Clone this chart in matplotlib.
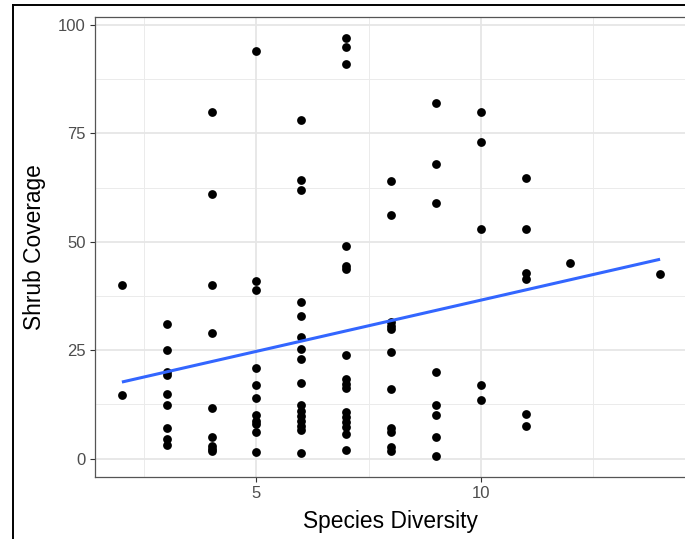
import numpy as np
import matplotlib
matplotlib.use("Agg")
import matplotlib.pyplot as plt
from matplotlib.lines import Line2D

plt.rcParams["font.family"] = ["Liberation Sans", "DejaVu Sans"]

# species diversity (x) and shrub coverage (y), grouped by diversity value
diversity = ([2] * 2 + [3] * 9 + [4] * 9 + [5] * 11 + [6] * 16 + [7] * 16
             + [8] * 11 + [9] * 8 + [10] * 5 + [11] * 6 + [12] * 1 + [14] * 1)
coverage = [
    40, 14.6,
    31, 25, 20, 19.3, 15, 12.4, 7.1, 4.6, 3.1,
    80, 61, 40, 29, 11.7, 5.1, 2.9, 2.2, 1.7,
    94, 41, 38.9, 20.8, 17, 13.9, 10, 8.8, 8.1, 6.1, 1.5,
    78, 64.2, 62, 36.1, 32.9, 28.1, 25.2, 23, 17.4, 12.3, 11, 9.8, 8.7, 7.6, 6.5, 1.4,
    97, 95, 91, 49, 44.5, 43.7, 24, 18.3, 17.3, 16.4, 10.8, 9.6, 8.4, 7.2, 5.6, 2.1,
    64, 56.2, 31.5, 30.6, 29.8, 24.7, 16.1, 7, 6.2, 2.8, 1.7,
    82, 68, 59, 20.1, 12.3, 10.1, 5, 0.6,
    80, 73, 53, 17, 13.6,
    64.6, 53, 42.7, 41.4, 10.2, 7.5,
    45,
    42.5,
]
x_ticks = [5, 10]
y_ticks = [0, 25, 50, 75, 100]

x = np.array(diversity, dtype=float)
y = np.array(coverage, dtype=float)

W, H = 685, 539
fig = plt.figure(figsize=(W / 100, H / 100), dpi=100)
ax = fig.add_axes([95 / W, (H - 477) / H, (687 - 95) / W, (477 - 17) / H])

# grid (theme_bw look)
for v in [2.5, 7.5, 12.5]:
    ax.axvline(v, color="#EBEBEB", lw=0.7, zorder=0)
for v in [12.5, 37.5, 62.5, 87.5]:
    ax.axhline(v, color="#EBEBEB", lw=0.7, zorder=0)
for v in x_ticks:
    ax.axvline(v, color="#E6E6E6", lw=1.3, zorder=0)
for v in y_ticks:
    ax.axhline(v, color="#E6E6E6", lw=1.3, zorder=0)

ax.scatter(x, y, s=40, color="black", zorder=3, linewidths=0)

slope, intercept = np.polyfit(x, y, 1)
xs = np.array([x.min(), x.max()])
ax.plot(xs, intercept + slope * xs, color="#3366FF", lw=2.2, zorder=4,
        solid_capstyle="butt")

span_x = x.max() - x.min()
span_y = y.max() - y.min()
ax.set_xlim(x.min() - 0.05 * span_x, x.max() + 0.05 * span_x)
ax.set_ylim(y.min() - 0.05 * span_y, y.max() + 0.05 * span_y)
ax.set_xticks(x_ticks)
ax.set_yticks(y_ticks)
ax.tick_params(length=3.75, width=0.8, color="#333333", labelcolor="#4D4D4D",
               labelsize=12, pad=3)
for s in ax.spines.values():
    s.set_color("#555555")
    s.set_linewidth(0.9)
ax.spines["right"].set_visible(False)

fig.text(390 / W, (H - 528) / H, "Species Diversity", ha="center",
         va="baseline", fontsize=16.4)
fig.text(35 / W, 1 - 247 / H, "Shrub Coverage", ha="center", va="center",
         rotation=90, fontsize=16.4)

# outer black frame, cut by the image edge
fig.add_artist(Line2D([13 / W, 1.01], [1 - 5 / H, 1 - 5 / H],
                      transform=fig.transFigure, color="black", lw=1.4))
fig.add_artist(Line2D([13 / W, 13 / W], [1 - 5 / H, -0.01],
                      transform=fig.transFigure, color="black", lw=1.4))

fig.savefig("out.png", dpi=100)
